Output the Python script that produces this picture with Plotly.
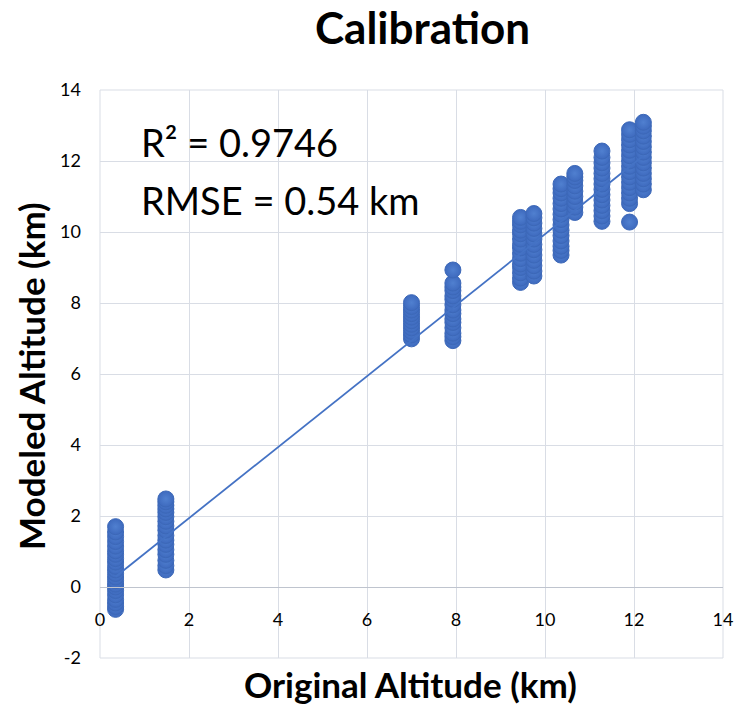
import plotly.graph_objects as go

# Original altitude of each cluster (km)
orig_alt = [0.35, 1.48, 7.00, 7.93, 9.45, 9.75, 10.36, 10.67, 11.28, 11.90, 12.21]

# Modeled altitudes read for each cluster (km)
modeled = [
    [-0.63, -0.55, -0.45, -0.35, -0.22, -0.10, 0.00, 0.08, 0.18, 0.28, 0.38, 0.48, 0.58,
     0.70, 0.80, 0.92, 1.02, 1.15, 1.28, 1.42, 1.55, 1.70],
    [0.48, 0.60, 0.75, 0.92, 1.05, 1.20, 1.32, 1.45, 1.60, 1.72, 1.85, 1.98, 2.10,
     2.20, 2.30, 2.40, 2.48],
    [6.99, 7.10, 7.20, 7.30, 7.40, 7.50, 7.60, 7.70, 7.80, 7.90, 8.01],
    [6.94, 7.05, 7.15, 7.30, 7.45, 7.55, 7.70, 7.80, 7.95, 8.10, 8.20, 8.35, 8.45, 8.56, 8.93],
    [8.58, 8.70, 8.85, 9.00, 9.10, 9.25, 9.40, 9.55, 9.65, 9.80, 9.95, 10.05, 10.20, 10.30, 10.41],
    [8.76, 8.90, 9.05, 9.20, 9.35, 9.50, 9.65, 9.80, 9.95, 10.10, 10.25, 10.40, 10.52],
    [9.35, 9.48, 9.60, 9.75, 9.90, 10.05, 10.20, 10.35, 10.50, 10.65, 10.80, 10.95,
     11.10, 11.22, 11.35],
    [10.55, 10.70, 10.85, 11.00, 11.15, 11.30, 11.45, 11.55, 11.65],
    [10.30, 10.45, 10.60, 10.75, 10.90, 11.05, 11.20, 11.35, 11.50, 11.65, 11.80,
     11.95, 12.10, 12.28],
    [10.28, 10.80, 10.95, 11.10, 11.25, 11.40, 11.55, 11.70, 11.85, 12.00, 12.15,
     12.30, 12.45, 12.60, 12.75, 12.88],
    [11.19, 11.35, 11.50, 11.65, 11.80, 11.95, 12.10, 12.25, 12.40, 12.55, 12.70,
     12.85, 12.98, 13.09],
]

# Linear trendline
trend_slope = 1.0
trend_intercept = -0.06

x_ticks = [0, 2, 4, 6, 8, 10, 12, 14]
y_ticks = [-2, 0, 2, 4, 6, 8, 10, 12, 14]

xs, ys = [], []
for xv, vals in zip(orig_alt, modeled):
    for v in vals:
        xs.append(xv)
        ys.append(v)

blue = "rgb(68,114,196)"
FONT = "Lato"

fig = go.Figure()
fig.add_trace(go.Scatter(
    x=xs, y=ys, mode="markers",
    marker=dict(size=16, color="rgb(62,106,190)",
                gradient=dict(type="radial", color="rgb(80,128,208)"),
                line=dict(color="rgb(60,104,184)", width=1)),
    showlegend=False, hoverinfo="x+y",
))
tx = [min(orig_alt), max(orig_alt)]
fig.add_trace(go.Scatter(
    x=tx, y=[trend_slope * v + trend_intercept for v in tx], mode="lines",
    line=dict(color=blue, width=1.8), showlegend=False, hoverinfo="skip",
))

grid = "rgb(217,221,229)"
fig.update_layout(
    width=736, height=705,
    margin=dict(l=100, r=13, t=90, b=47, autoexpand=False),
    paper_bgcolor="white", plot_bgcolor="white",
    font=dict(family=FONT, color="black"),
    xaxis=dict(range=[0, 14], tickvals=x_ticks, ticktext=[str(v) for v in x_ticks],
               showgrid=True, gridcolor=grid, gridwidth=1, zeroline=False,
               showline=True, linecolor="rgb(191,196,206)", linewidth=1, automargin=False,
               anchor="free", position=0.125, ticks="", ticklabelstandoff=16,
               tickfont=dict(size=18, family=FONT, color="black")),
    yaxis=dict(range=[-2, 14], tickvals=y_ticks, ticktext=[str(v) for v in y_ticks],
               showgrid=True, gridcolor=grid, gridwidth=1, zeroline=False, automargin=False,
               showline=False, ticks="", ticklabelstandoff=18,
               tickfont=dict(size=18, family=FONT, color="black")),
    shapes=[dict(type="rect", xref="paper", yref="paper", x0=0, x1=1, y0=0, y1=1,
                 line=dict(color=grid, width=1), layer="below")],
    annotations=[
        dict(text="<b>Calibration</b>", xref="paper", yref="paper",
             x=(422 - 100) / 623, y=(658 - 27) / 568, xanchor="center", yanchor="middle",
             showarrow=False, font=dict(size=44, family=FONT, color="black")),
        dict(text="<b>Original Altitude (km)</b>", xref="paper", yref="paper",
             x=(410 - 100) / 623, y=(658 - 684) / 568, xanchor="center", yanchor="middle",
             showarrow=False, font=dict(size=35, family=FONT, color="black")),
        dict(text="<b>Modeled Altitude (km)</b>", xref="paper", yref="paper",
             x=(31 - 100) / 623, y=(658 - 376) / 568, xanchor="center", yanchor="middle",
             textangle=-90, showarrow=False, font=dict(size=35, family=FONT, color="black")),
        dict(text="R² = 0.9746", xref="paper", yref="paper",
             x=(139 - 100) / 623, y=(658 - 142) / 568, xanchor="left", yanchor="middle",
             showarrow=False, font=dict(size=38, family=FONT, color="black")),
        dict(text="RMSE = 0.54 km", xref="paper", yref="paper",
             x=(139 - 100) / 623, y=(658 - 200) / 568, xanchor="left", yanchor="middle",
             showarrow=False, font=dict(size=38, family=FONT, color="black")),
    ],
)

fig.write_html("out.html")
